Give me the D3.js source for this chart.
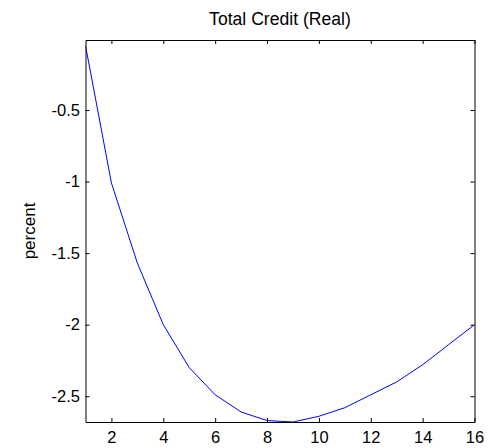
<!DOCTYPE html>
<html>
<head>
<meta charset="utf-8">
<script src="https://cdn.jsdelivr.net/npm/d3@7"></script>
<style>
  html, body { margin: 0; padding: 0; background: #fff; }
  svg { display: block; }
  text { font-family: "Liberation Sans", Arial, sans-serif; fill: #000; }
</style>
</head>
<body>
<svg id="chart" width="504" height="448"></svg>
<script>
// Impulse response horizon (quarters) and response in percent
const horizon = [1, 2, 3, 4, 5, 6, 7, 8, 9, 10, 11, 12, 13, 14, 15, 16];
const response = [-0.05, -1.01, -1.57, -2.0, -2.30, -2.49, -2.61, -2.67, -2.68, -2.64, -2.58, -2.49, -2.40, -2.28, -2.14, -2.0];
const xTicks = [2, 4, 6, 8, 10, 12, 14, 16];
const yTicks = [-2.5, -2, -1.5, -1, -0.5];
const title = "Total Credit (Real)";
const yLabel = "percent";

const margin = { top: 40, right: 29.5, bottom: 26, left: 85.5 };
const W = 504, H = 448;
const iw = W - margin.left - margin.right;
const ih = H - margin.top - margin.bottom;

const svg = d3.select("#chart");
const g = svg.append("g").attr("transform", `translate(${margin.left},${margin.top})`);

const x = d3.scaleLinear().domain([1, 16]).range([0, iw]);
const y = d3.scaleLinear().domain([-2.68, -0.011]).range([ih, 0]);

// clip the curve to the plotting box
svg.append("defs").append("clipPath").attr("id", "clip")
  .append("rect").attr("width", iw).attr("height", ih);

g.append("path")
  .datum(horizon.map((h, i) => [h, response[i]]))
  .attr("clip-path", "url(#clip)")
  .attr("fill", "none")
  .attr("stroke", "#0000ff")
  .attr("stroke-width", 1)
  .attr("d", d3.line().x(d => x(d[0])).y(d => y(d[1])));

// axes with inward ticks on all four sides
const tickLen = 4;
const fmt = d => String(d);
const styleAxis = sel => {
  sel.selectAll("path.domain").attr("stroke", "#000").attr("stroke-width", 1).attr("fill", "none");
  sel.selectAll(".tick line").attr("stroke", "#000");
  sel.selectAll("text").style("font-size", "16.5px").attr("fill", "#000");
};

g.append("g").attr("transform", `translate(0,${ih})`)
  .call(d3.axisBottom(x).tickValues(xTicks).tickFormat(fmt).tickSizeInner(-tickLen).tickSizeOuter(0).tickPadding(9))
  .call(styleAxis);
g.append("g")
  .call(d3.axisTop(x).tickValues(xTicks).tickFormat("").tickSizeInner(-tickLen).tickSizeOuter(0))
  .call(styleAxis);
g.append("g")
  .call(d3.axisLeft(y).tickValues(yTicks).tickFormat(fmt).tickSizeInner(-tickLen).tickSizeOuter(0).tickPadding(5.5))
  .call(styleAxis);
g.append("g").attr("transform", `translate(${iw},0)`)
  .call(d3.axisRight(y).tickValues(yTicks).tickFormat("").tickSizeInner(-tickLen).tickSizeOuter(0))
  .call(styleAxis);

// title and y label
svg.append("text")
  .attr("x", margin.left + iw / 2).attr("y", 25)
  .attr("text-anchor", "middle").style("font-size", "17.6px")
  .text(title);

svg.append("text")
  .attr("transform", `translate(35,${margin.top + ih / 2}) rotate(-90)`)
  .attr("text-anchor", "middle").style("font-size", "17px")
  .text(yLabel);
</script>
</body>
</html>
